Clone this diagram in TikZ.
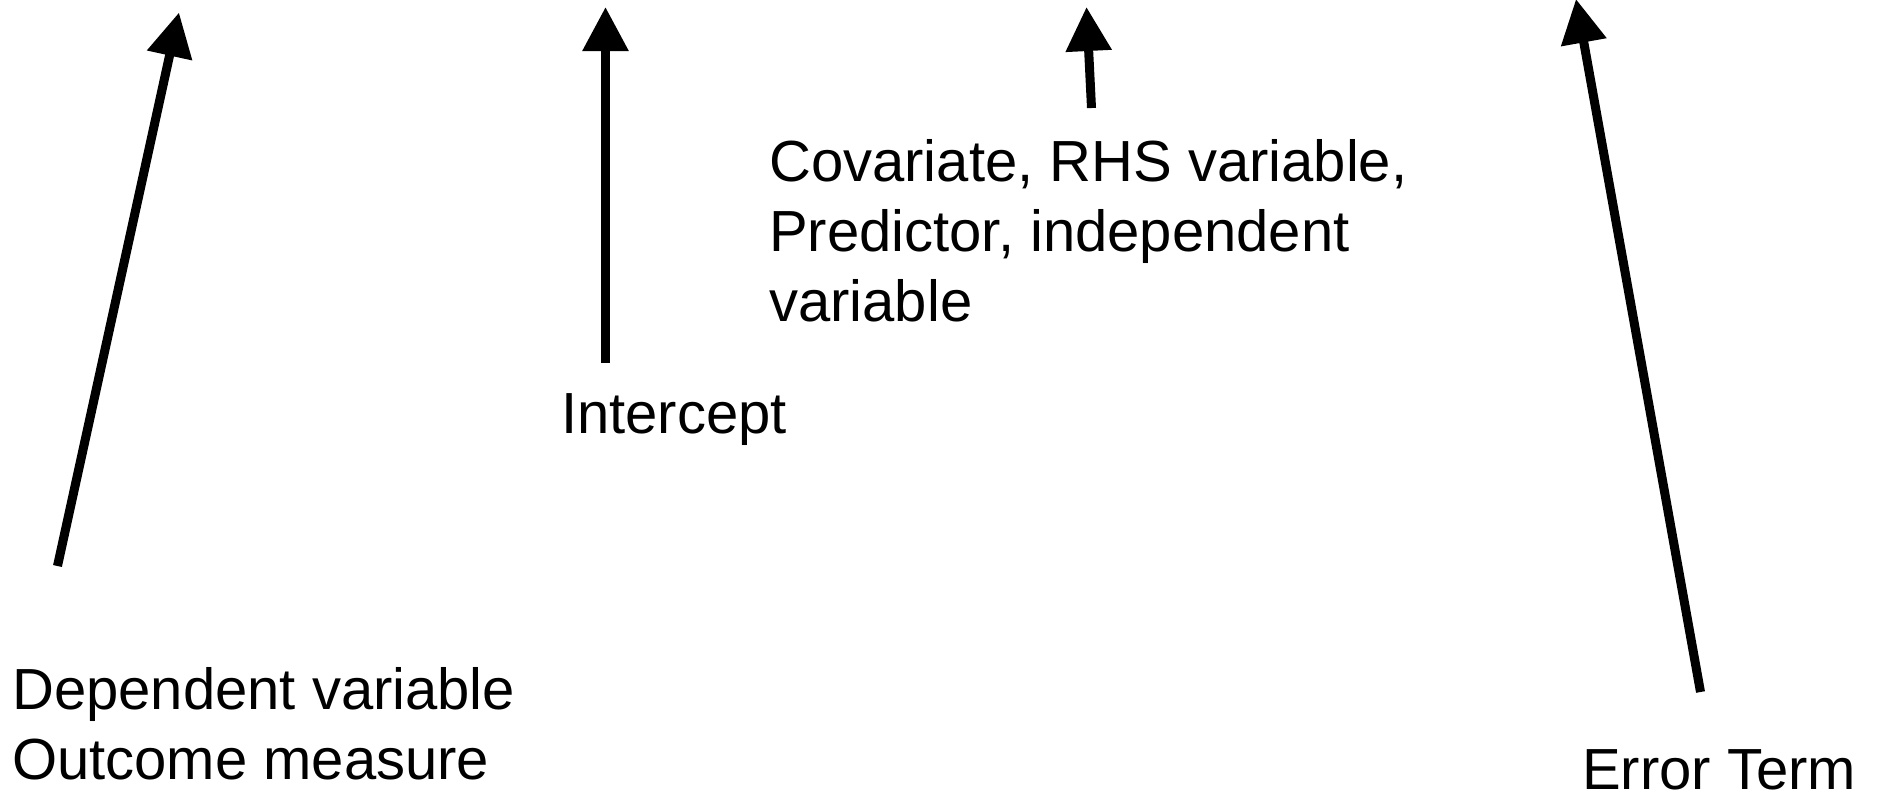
\documentclass[tikz,border=0pt]{standalone}
\usepackage{fontspec}
\setmainfont{Liberation Sans}
\usetikzlibrary{arrows.meta}
\begin{document}
\begin{tikzpicture}[x=1pt,y=-1pt,
  lbl/.style={anchor=base west,inner sep=0pt,align=left,font=\fontsize{58}{69.6}\selectfont},
  ptr/.style={line width=9pt,-{Triangle[length=44pt,width=44pt]}}]
\useasboundingbox (0,0) rectangle (1879,793);
% labels (anchor = baseline of last line)
\node[lbl] (dep) at (12,779) {Dependent variable\\Outcome measure};
\node[lbl] (int) at (561,433) {Intercept};
\node[lbl] (cov) at (769,321) {Covariate, RHS variable,\\Predictor, independent\\variable};
\node[lbl] (err) at (1582,789) {Error Term};
% arrow ends
\coordinate (depT) at (57.5,566);
\coordinate (depH) at (179,12.5);
\coordinate (intT) at (605.5,363);
\coordinate (intH) at (605.5,7);
\coordinate (covT) at (1091.5,108);
\coordinate (covH) at (1086.5,7);
\coordinate (errT) at (1700.5,692);
\coordinate (errH) at (1576,-1);
\draw[ptr] (depT) -- (depH);
\draw[ptr] (intT) -- (intH);
\draw[ptr] (covT) -- (covH);
\draw[ptr] (errT) -- (errH);
\end{tikzpicture}
\end{document}
